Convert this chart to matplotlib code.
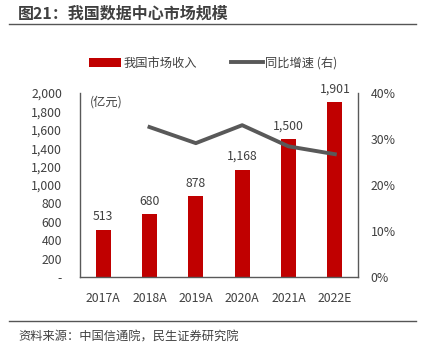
import matplotlib
matplotlib.use("Agg")
import matplotlib.pyplot as plt
from matplotlib.lines import Line2D
from matplotlib.patches import Patch
from matplotlib.ticker import FuncFormatter

plt.rcParams['font.family'] = ['Noto Sans CJK SC', 'DejaVu Sans']

# dados
anos = ["2017A", "2018A", "2019A", "2020A", "2021A", "2022E"]
receita = [513, 680, 878, 1168, 1500, 1901]
crescimento = [None, 32.6, 29.1, 33.0, 28.4, 26.7]

VERMELHO = "#C00000"
CINZA = "#595959"
TEXTO = "#404040"

fig = plt.figure(figsize=(4.27, 3.52), dpi=100)
ax = fig.add_axes([80 / 427, 1 - 277 / 352, 278 / 427, 184 / 352])
ax2 = ax.twinx()

x = list(range(len(anos)))
ax.bar(x, receita, width=0.33, color=VERMELHO, zorder=2)
for xi, v in zip(x, receita):
    ax.text(xi, v + 70, f"{v:,}", ha="center", va="bottom", fontsize=8.8, color=TEXTO)

xs = [xi for xi, c in zip(x, crescimento) if c is not None]
ys = [c for c in crescimento if c is not None]
ax2.plot(xs, ys, color=CINZA, linewidth=2.8, zorder=3)

ax.set_xlim(-0.5, len(anos) - 0.5)
ax.set_ylim(0, 2000)
ax.set_yticks(range(0, 2001, 200))
ax.yaxis.set_major_formatter(FuncFormatter(lambda v, p: "-" if v == 0 else f"{int(v):,}"))
ax2.set_ylim(0, 40)
ax2.set_yticks(range(0, 41, 10))
ax2.yaxis.set_major_formatter(FuncFormatter(lambda v, p: f"{int(v)}%"))

ax.set_xticks(x)
ax.set_xticklabels(anos)

for a in (ax, ax2):
    a.spines["top"].set_visible(False)
    a.tick_params(length=0, labelsize=8.8, colors=TEXTO)
    for s in ("left", "right", "bottom"):
        a.spines[s].set_color(CINZA)
        a.spines[s].set_linewidth(1.0)
ax.spines["right"].set_visible(False)
ax2.spines["left"].set_visible(False)
ax2.spines["bottom"].set_visible(False)
ax.tick_params(axis="y", pad=13)
ax2.tick_params(axis="y", pad=9)
ax.tick_params(axis="x", pad=11)

ax.text(0.035, 0.985, "(亿元)", transform=ax.transAxes, fontsize=8.8, color=TEXTO,
        ha="left", va="top")

# legenda
handles = [Patch(facecolor=VERMELHO), Line2D([0], [0], color=CINZA, linewidth=2.8)]
fig.legend(handles, ["我国市场收入", "同比增速 (右)"], loc="center",
           bbox_to_anchor=(0.5, 1 - 63 / 352), ncol=2, frameon=False, fontsize=8.8,
           handlelength=2.6, handletextpad=0.2, columnspacing=2.8,
           labelcolor=TEXTO)

# título e fonte
fig.text(18 / 427, 1 - 14 / 352, "图21：我国数据中心市场规模", fontsize=11.5,
         fontweight="bold", color=TEXTO, ha="left", va="center")
fig.add_artist(Line2D([9 / 427, 416 / 427], [1 - 24 / 352] * 2, color="#555555", linewidth=1.0))
fig.add_artist(Line2D([9 / 427, 416 / 427], [1 - 321 / 352] * 2, color="#555555", linewidth=1.0))
fig.text(18 / 427, 1 - 337 / 352, "资料来源：中国信通院，民生证券研究院", fontsize=8.8,
         color=TEXTO, ha="left", va="center")

fig.savefig("out.png", dpi=100)
plt.close(fig)
